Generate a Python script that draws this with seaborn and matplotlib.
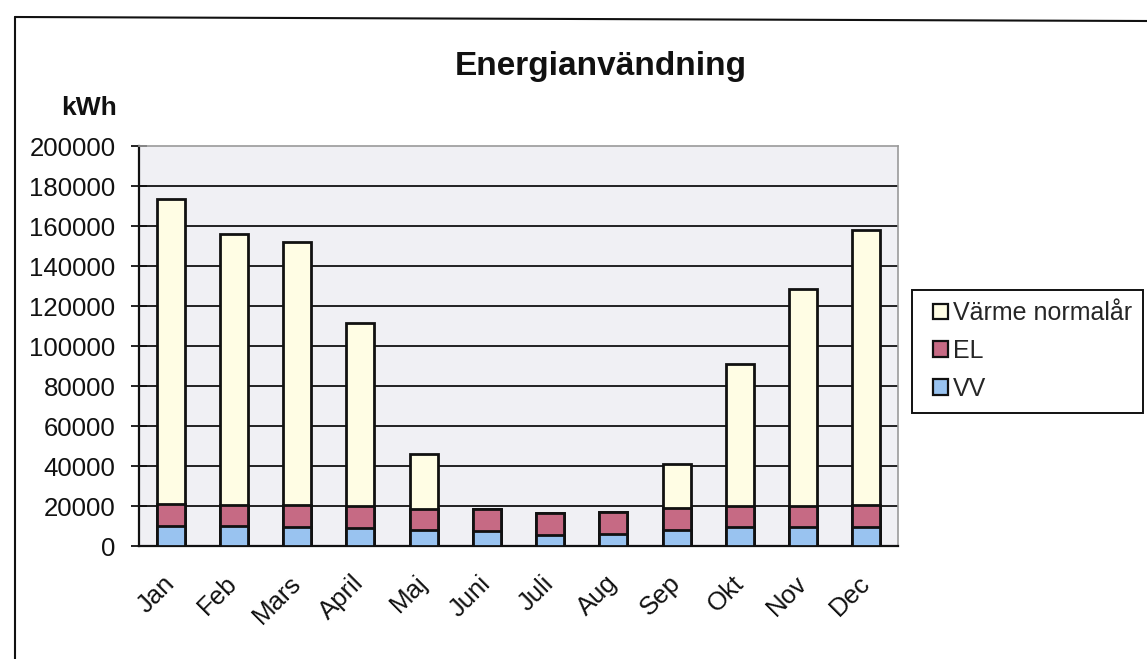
import matplotlib
matplotlib.use("Agg")
import matplotlib.pyplot as plt
from matplotlib.patches import Patch, Rectangle
from matplotlib.lines import Line2D
import seaborn as sns
import pandas as pd
import numpy as np

months = ["Jan", "Feb", "Mars", "April", "Maj", "Juni", "Juli", "Aug", "Sep", "Okt", "Nov", "Dec"]
vv = [10000, 9800, 9300, 9000, 8000, 7500, 5700, 6000, 8000, 9300, 9500, 9700]
el = [10800, 10900, 11200, 11200, 10700, 11200, 10800, 11000, 10800, 10500, 10500, 10600]
varme = [152500, 135300, 131300, 91100, 27300, 0, 0, 0, 22000, 71200, 108300, 137700]
series_names = ["Värme normalår", "EL", "VV"]
y_ticks = list(range(0, 200001, 20000))

c_varme = "#fffde4"
c_el = "#c66a84"
c_vv = "#99c3f0"

sns.set_theme(style="white")
plt.rcParams["font.family"] = ["Liberation Sans", "DejaVu Sans"]

df = pd.DataFrame({"month": months, "VV": vv, "EL": el, "Varme": varme})
df["tot_el"] = df["VV"] + df["EL"]
df["tot_all"] = df["tot_el"] + df["Varme"]

W, H = 1147, 659
fig = plt.figure(figsize=(W / 100, H / 100), dpi=100)
fig.patch.set_facecolor("white")
ax = fig.add_axes([139 / W, 1 - 546 / H, (898 - 139) / W, (546 - 146) / H])
ax.set_facecolor("#f0f0f4")

bw = 0.44
for col, color in [("tot_all", c_varme), ("tot_el", c_el), ("VV", c_vv)]:
    sns.barplot(data=df, x="month", y=col, order=months, color=color, width=bw,
                edgecolor="#111111", linewidth=2.0, saturation=1, ax=ax, zorder=3)

ax.set_ylim(0, 200000)
ax.set_xlim(-0.5, len(months) - 0.5)
ax.set_yticks(y_ticks)
ax.set_yticklabels([str(v) for v in y_ticks], fontsize=18.5, color="#111111")
for v in y_ticks[1:-1]:
    ax.axhline(v, color="#111111", linewidth=1.3, zorder=1)

ax.set_xticks(range(len(months)))
ax.set_xticklabels(months, rotation=45, ha="right", va="center", rotation_mode="anchor",
                   fontsize=18.5, color="#111111")
ax.tick_params(axis="x", which="major", length=0, pad=24)
ax.set_xticks(np.arange(-0.5, len(months), 1.0), minor=True)
ax.tick_params(axis="x", which="minor", length=7, width=1.3, direction="out", color="#111111")
ax.tick_params(axis="y", which="major", length=11, width=1.3, direction="inout",
               color="#111111", pad=11.5, left=True)
ax.set_xlabel("")
ax.set_ylabel("")

for s in ["left", "bottom"]:
    ax.spines[s].set_color("#111111")
    ax.spines[s].set_linewidth(1.6)
for s in ["top", "right"]:
    ax.spines[s].set_color("#9a9a9a")
    ax.spines[s].set_linewidth(1.2)
    ax.spines[s].set_visible(True)

fig.text(601 / W, 1 - 66 / H, "Energianvändning", ha="center", va="center",
         fontsize=24, fontweight="bold", color="#111111")
fig.text(117 / W, 1 - 108 / H, "kWh", ha="right", va="center",
         fontsize=19, fontweight="bold", color="#111111")

handles = [Patch(facecolor=c, edgecolor="#111111", linewidth=1.6) for c in (c_varme, c_el, c_vv)]
leg = fig.legend(handles, series_names, loc="center left",
                 bbox_to_anchor=(933 / W, 1 - 351 / H), fontsize=18,
                 frameon=False, handlelength=0.6, handleheight=0.6,
                 handletextpad=0.2, labelspacing=0.55, borderpad=0,
                 borderaxespad=0)
fig.add_artist(Rectangle((912 / W, 1 - 413 / H), (1143 - 912) / W, (413 - 290) / H,
                         transform=fig.transFigure, facecolor="none",
                         edgecolor="#111111", linewidth=1.4))

fig.add_artist(Line2D([15 / W, 15 / W], [0, 1 - 17 / H], transform=fig.transFigure,
                      color="#111111", linewidth=1.5))
fig.add_artist(Line2D([15 / W, 1], [1 - 17 / H, 1 - 21 / H], transform=fig.transFigure,
                      color="#111111", linewidth=1.5))

fig.savefig("out.png", dpi=100, facecolor="white")
